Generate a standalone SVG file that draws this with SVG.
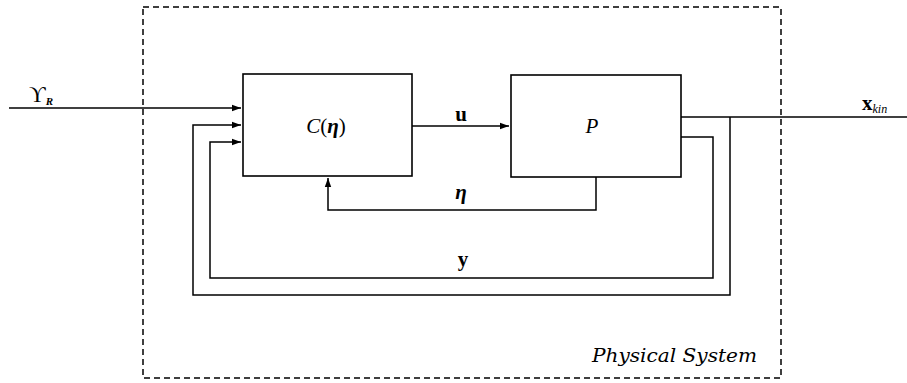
<svg xmlns="http://www.w3.org/2000/svg" width="907" height="383" viewBox="0 0 907 383">
<style>
.box{fill:none;stroke:#000;stroke-width:1.6}
.ln{fill:none;stroke:#000;stroke-width:1.5}
.dash{fill:none;stroke:#000;stroke-width:1.5;stroke-dasharray:6 4}
text{font-family:"Liberation Serif","DejaVu Serif",serif;fill:#000}
.lbl{font-size:21px}
.b{font-weight:bold}
.i{font-style:italic}
</style>
<defs>
<marker id="ah" markerWidth="10" markerHeight="8" refX="9" refY="4" orient="auto" markerUnits="userSpaceOnUse">
<path d="M0,0.8 L9,4 L0,7.2 Z" fill="#000"/>
</marker>
</defs>
<g id="system">
<rect class="dash" x="143" y="7" width="638" height="371"/>
<text x="592" y="362" style="font-family:'DejaVu Serif',serif;font-style:italic;font-size:18px" textLength="165" lengthAdjust="spacingAndGlyphs">Physical System</text>
</g>
<g id="controller">
<rect class="box" x="243" y="74" width="169" height="102"/>
<text x="326" y="133" class="lbl" text-anchor="middle"><tspan class="i">C</tspan>(<tspan class="b i">η</tspan>)</text>
</g>
<g id="plant">
<rect class="box" x="511" y="75" width="170" height="102"/>
<text x="592" y="133" class="lbl i" text-anchor="middle">P</text>
</g>
<g id="connectors">
<path class="ln" d="M9,108 H241" marker-end="url(#ah)"/>
<path class="ln" d="M412,126 H509" marker-end="url(#ah)"/>
<path class="ln" d="M596,177 V210 H328 V178" marker-end="url(#ah)"/>
<path class="ln" d="M681,117 H907"/>
<path class="ln" d="M730,117 V295 H193 V125 H241" marker-end="url(#ah)"/>
<path class="ln" d="M681,137 H713 V278 H210 V142 H241" marker-end="url(#ah)"/>
</g>
<g id="labels">
<text x="29" y="102" font-size="23">ϒ<tspan font-size="11" class="i b" dy="3">R</tspan></text>
<text x="461" y="121" class="lbl b" text-anchor="middle">u</text>
<text x="461" y="199" class="lbl b i" text-anchor="middle">η</text>
<text x="463" y="266" class="lbl b" text-anchor="middle">y</text>
<text x="862" y="110" class="lbl b">x<tspan font-size="12" class="i" font-weight="normal" dy="3">kin</tspan></text>
</g>
</svg>
